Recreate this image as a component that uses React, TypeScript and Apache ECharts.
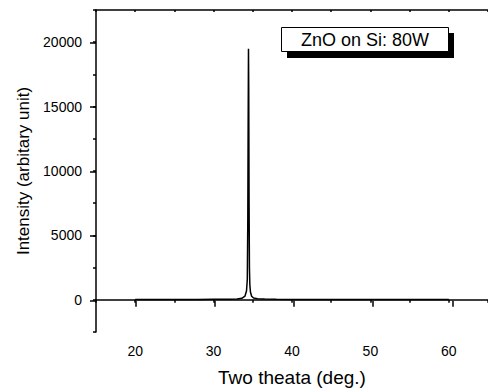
import React, { useEffect, useRef } from "react";
import * as echarts from "echarts";

// XRD pattern: [two theta (deg), intensity]
const twoTheta = [20, 22, 25, 28, 30, 31, 32, 33, 33.6, 34.0, 34.2, 34.3, 34.36, 34.41, 34.45, 34.48, 34.52, 34.57, 34.62, 34.7, 34.85, 35.1, 35.6, 36.5, 38, 40, 45, 50, 55, 60];
const intensity = [20, 20, 25, 30, 35, 40, 45, 70, 120, 280, 700, 1600, 6000, 14000, 19500, 16500, 8000, 2500, 1200, 600, 280, 140, 80, 55, 40, 30, 25, 20, 20, 20];

const xLabelValues = [20, 30, 40, 50, 60];
const yLabelValues = [0, 5000, 10000, 15000, 20000];

const legendText = "ZnO on Si: 80W";
const xTitle = "Two theata (deg.)";
const yTitle = "Intensity (arbitary unit)";

const FONT = "'Liberation Sans', Arial, Helvetica, sans-serif";

const X_MIN = 15, X_MAX = 65, Y_MIN = -2500, Y_MAX = 22500;
const GL = 96, GT = 10, GW = 396, GH = 323;
const pxX = GW / (X_MAX - X_MIN);
const pxY = GH / (Y_MAX - Y_MIN);

const hidden = { axisLine: { show: false }, axisTick: { show: false }, axisLabel: { show: false }, splitLine: { show: false } };

export default function App() {
  const ref = useRef<HTMLDivElement>(null);
  useEffect(() => {
    if (!ref.current) return;
    const chart = echarts.init(ref.current, undefined, { renderer: "svg" });
    const data = twoTheta.map((x, i) => [x, intensity[i]]);
    const tickStyle = { color: "#000", width: 1.5 };
    chart.setOption({
      animation: false,
      backgroundColor: "#fff",
      textStyle: { fontFamily: FONT },
      grid: [
        { left: GL, top: GT, width: GW, height: GH },
        // grid for the long (labelled) y ticks: 0..20000
        { left: GL, top: GT + (Y_MAX - yLabelValues[4]) * pxY, width: GW, height: (yLabelValues[4] - yLabelValues[0]) * pxY },
        // grid for the long (labelled) x ticks: 20..60
        { left: GL + (xLabelValues[0] - X_MIN) * pxX, top: GT, width: (xLabelValues[4] - xLabelValues[0]) * pxX, height: GH },
      ],
      xAxis: [
        {
          gridIndex: 0,
          type: "value",
          min: X_MIN,
          max: X_MAX,
          interval: 5,
          position: "bottom",
          axisLine: { show: true, lineStyle: { color: "#000", width: 1.5 } },
          axisTick: { show: true, length: 3, lineStyle: tickStyle },
          axisLabel: { customValues: xLabelValues.slice(), formatter: (v: number) => String(v), color: "#000", fontSize: 14, margin: 12, fontFamily: FONT },
          splitLine: { show: false },
          name: xTitle,
          nameLocation: "middle",
          nameGap: 36,
          nameTextStyle: { fontSize: 19, color: "#000", fontFamily: FONT },
        },
        {
          gridIndex: 0,
          type: "value",
          min: X_MIN,
          max: X_MAX,
          interval: 5,
          position: "top",
          axisLine: { show: true, lineStyle: { color: "#000", width: 1.5 } },
          axisTick: { show: true, length: 2, inside: true, lineStyle: tickStyle },
          axisLabel: { show: false },
          splitLine: { show: false },
        },
        { gridIndex: 1, type: "value", min: X_MIN, max: X_MAX, ...hidden },
        {
          gridIndex: 2,
          type: "value",
          min: xLabelValues[0],
          max: xLabelValues[4],
          interval: 10,
          position: "bottom",
          axisLine: { show: false },
          axisTick: { show: true, length: 6, lineStyle: tickStyle },
          axisLabel: { show: false },
          splitLine: { show: false },
        },
      ],
      yAxis: [
        {
          gridIndex: 0,
          type: "value",
          min: Y_MIN,
          max: Y_MAX,
          interval: 2500,
          position: "left",
          axisLine: { show: true, lineStyle: { color: "#000", width: 1.5 } },
          axisTick: { show: true, length: 3, lineStyle: tickStyle },
          axisLabel: { customValues: yLabelValues.slice(), formatter: (v: number) => String(v), color: "#000", fontSize: 14, margin: 14, fontFamily: FONT },
          splitLine: { show: false },
          name: yTitle,
          nameLocation: "middle",
          nameGap: 59,
          nameRotate: 90,
          nameTextStyle: { fontSize: 17, color: "#000", fontFamily: FONT },
        },
        {
          gridIndex: 1,
          type: "value",
          min: yLabelValues[0],
          max: yLabelValues[4],
          interval: 5000,
          position: "left",
          axisLine: { show: false },
          axisTick: { show: true, length: 6, lineStyle: tickStyle },
          axisLabel: { show: false },
          splitLine: { show: false },
        },
        { gridIndex: 2, type: "value", min: Y_MIN, max: Y_MAX, ...hidden },
      ],
      series: [
        {
          type: "line",
          xAxisIndex: 0,
          yAxisIndex: 0,
          data,
          showSymbol: false,
          symbol: "none",
          lineStyle: { color: "#000", width: 1.5 },
          z: 3,
        },
      ],
      graphic: [
        { type: "rect", shape: { x: 287, y: 33, width: 167, height: 25 }, style: { fill: "#000" }, z: 10 },
        { type: "rect", shape: { x: 281.5, y: 27.5, width: 167, height: 24 }, style: { fill: "#fff", stroke: "#000", lineWidth: 1 }, z: 11 },
        {
          type: "text",
          x: 365,
          y: 40,
          z: 12,
          style: { text: legendText, fill: "#000", fontSize: 18, fontFamily: FONT, align: "center", verticalAlign: "middle" },
        },
      ],
    });
    return () => chart.dispose();
  }, []);
  return <div ref={ref} style={{ position: "fixed", left: 0, top: 0, width: 488, height: 392 }} />;
}
